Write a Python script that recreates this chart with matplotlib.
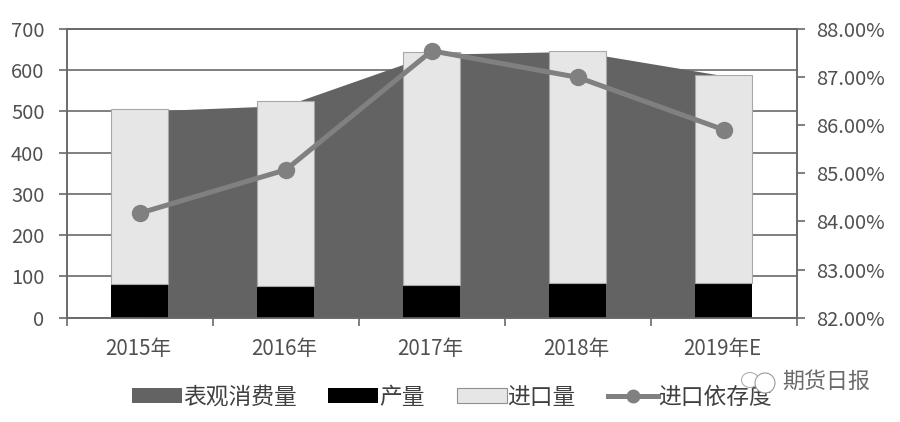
import matplotlib
matplotlib.use('Agg')
from matplotlib import pyplot as plt
from matplotlib.lines import Line2D
from matplotlib.patches import Ellipse, Patch
from matplotlib.ticker import FixedLocator, NullFormatter
from matplotlib.transforms import ScaledTranslation

plt.rcParams['font.family'] = ['Noto Sans CJK SC', 'DejaVu Sans']

years = ['2015年', '2016年', '2017年', '2018年', '2019年E']
consumption = [500, 514, 638, 645, 586]
production = [81, 77, 79, 83, 83]
imports = [425, 447, 564, 564, 506]
dependence = [84.17, 85.07, 87.54, 86.99, 85.90]

left_ticks = [0, 100, 200, 300, 400, 500, 600, 700]
right_ticks = [82, 83, 84, 85, 86, 87, 88]

TEXT = '#505050'
GRID = '#6a6a6a'
AREA = '#636363'
BAR = '#e6e6e6'
LINE = '#808080'

W, H = 900, 422
fig = plt.figure(figsize=(W / 100, H / 100), dpi=100)
ax = fig.add_axes([66.7 / W, 1 - 317.7 / H, (797 - 66.7) / W, (317.7 - 28.7) / H])

idx = list(range(len(years)))
ax.fill_between(idx, consumption, 0, color=AREA, linewidth=0, zorder=2)
ax.bar(idx, production, width=0.39, color='black', linewidth=0, zorder=3)
ax.bar(idx, imports, width=0.39, bottom=production, color=BAR,
       edgecolor='#a8a8a8', linewidth=0.8, zorder=3)

ax.set_xlim(-0.5, 4.5)
ax.set_ylim(0, 700)
ax.set_yticks(left_ticks)
ax.grid(axis='y', color=GRID, linewidth=1.2, zorder=1)
ax.set_axisbelow(True)
ax.tick_params(axis='y', length=6, width=1.2, color=GRID, labelcolor=TEXT, labelsize=14.5, pad=10)

# labels sit at the category centres, tick marks at the boundaries
ax.xaxis.set_major_locator(FixedLocator([i - 0.5 for i in range(6)]))
ax.xaxis.set_major_formatter(NullFormatter())
ax.xaxis.set_minor_locator(FixedLocator(idx))
ax.set_xticklabels(years, minor=True)
ax.tick_params(axis='x', which='major', length=6, width=1.2, color=GRID)
ax.tick_params(axis='x', which='minor', length=0, labelcolor=TEXT, labelsize=14.8, pad=14.5)
nudge = ScaledTranslation(-2 / 100, 0, fig.dpi_scale_trans)
for label in ax.get_xticklabels(minor=True):
    label.set_transform(label.get_transform() + nudge)

ax2 = ax.twinx()
ax2.plot(idx, dependence, color=LINE, linewidth=3.6, marker='o', markersize=11.5, zorder=5)
ax2.set_ylim(82, 88)
ax2.set_yticks(right_ticks)
ax2.set_yticklabels(['%.2f%%' % v for v in right_ticks])
ax2.tick_params(axis='y', length=6, width=1.2, color=GRID, labelcolor=TEXT, labelsize=14.5, pad=8)

for a in (ax, ax2):
    for side in ('left', 'right', 'bottom', 'top'):
        a.spines[side].set_color(GRID)
        a.spines[side].set_linewidth(1.2)

handles = [Patch(facecolor=AREA, edgecolor='none'),
           Patch(facecolor='black', edgecolor='none'),
           Patch(facecolor=BAR, edgecolor='#909090', linewidth=0.8),
           Line2D([], [], color=LINE, linewidth=3.6, marker='o', markersize=9)]
fig.legend(handles, ['表观消费量', '产量', '进口量', '进口依存度'],
           loc='center', bbox_to_anchor=(452 / W, 1 - 397 / H), ncol=4, frameon=False,
           fontsize=16.4, labelcolor='#404040', handlelength=2.2, handleheight=0.66,
           handletextpad=0.03, columnspacing=1.4, borderpad=0, borderaxespad=0)

# watermark
fig.add_artist(Ellipse((750 / W, 1 - 380 / H), 17 / W, 15 / H, transform=fig.transFigure,
                       facecolor='white', edgecolor='#b0b0b0', linewidth=0.8, zorder=6))
fig.add_artist(Ellipse((765 / W, 1 - 383 / H), 20 / W, 20 / H, transform=fig.transFigure,
                       facecolor='white', edgecolor='#9a9a9a', linewidth=0.8, zorder=7))
fig.text(826.5 / W, 1 - 382 / H, '期货日报', ha='center', va='center',
         fontsize=15.8, color='#6a6a6a', zorder=8)

fig.savefig('out.png', dpi=100)
